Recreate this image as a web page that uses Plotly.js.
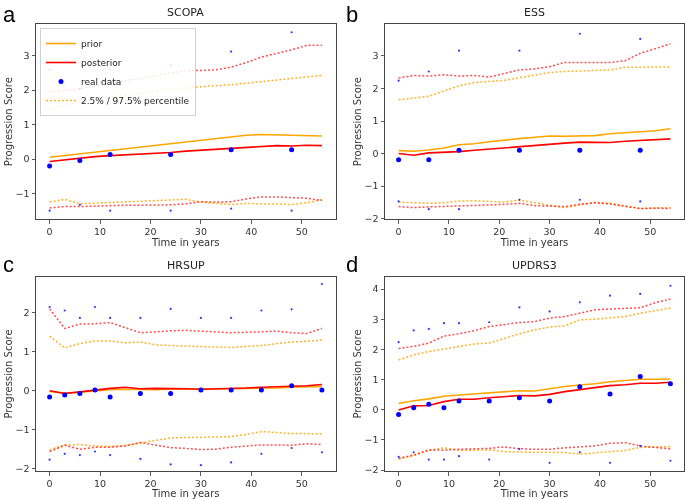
<!DOCTYPE html>
<html>
<head>
<meta charset="utf-8">
<script src="https://cdn.plot.ly/plotly-3.0.1.min.js"></script>
<style>html,body{margin:0;padding:0;background:#fff;}#chart{width:685px;height:499px;}</style>
</head>
<body>
<div id="chart"></div>
<script>
// ---------- data ----------
const panelTitles = ["SCOPA", "ESS", "HRSUP", "UPDRS3"];
const panelLetters = ["a", "b", "c", "d"];
const time = [0,3,6,9,12,15,18,21,24,27,30,33,36,39,42,45,48,51,54];
const xTicks = [0,10,20,30,40,50];

// SCOPA
const scopaPrior     = [0.05,0.10,0.16,0.20,0.24,0.29,0.35,0.40,0.45,0.50,0.56,0.61,0.66,0.69,0.71,0.70,0.69,0.68,0.67];
const scopaPost      = [-0.07,-0.02,0.03,0.07,0.10,0.12,0.15,0.18,0.19,0.23,0.26,0.28,0.31,0.34,0.36,0.39,0.38,0.40,0.39];
const scopaPriorHi   = [1.44,1.55,1.65,1.73,1.80,1.86,1.92,1.98,2.03,2.07,2.10,2.12,2.16,2.20,2.25,2.30,2.35,2.40,2.43];
const scopaPriorLo   = [-1.25,-1.17,-1.30,-1.28,-1.27,-1.25,-1.22,-1.19,-1.17,-1.17,-1.25,-1.29,-1.32,-1.29,-1.30,-1.32,-1.32,-1.27,-1.18];
const scopaPostHi    = [1.95,2.00,2.04,2.13,2.20,2.27,2.33,2.42,2.50,2.56,2.57,2.59,2.67,2.80,2.96,3.06,3.17,3.30,3.30];
const scopaPostLo    = [-1.42,-1.38,-1.38,-1.36,-1.35,-1.34,-1.34,-1.34,-1.33,-1.30,-1.24,-1.25,-1.24,-1.16,-1.10,-1.10,-1.13,-1.14,-1.20];
const scopaDataT     = [0,6,12,24,36,48];
const scopaData      = [-0.20,-0.04,0.13,0.13,0.27,0.27];
const scopaDataHi    = [2.59,2.04,2.62,2.71,3.12,3.68];
const scopaDataLo    = [-1.50,-1.33,-1.50,-1.50,-1.44,-1.50];

// ESS
const essPrior       = [0.09,0.07,0.11,0.17,0.27,0.30,0.36,0.42,0.46,0.50,0.54,0.53,0.55,0.55,0.61,0.63,0.67,0.70,0.76];
const essPost        = [0.00,-0.05,0.02,0.03,0.06,0.10,0.14,0.18,0.20,0.25,0.29,0.32,0.35,0.34,0.34,0.38,0.41,0.43,0.45];
const essPriorHi     = [1.65,1.70,1.76,1.92,2.08,2.18,2.22,2.25,2.33,2.42,2.49,2.52,2.54,2.55,2.57,2.65,2.65,2.66,2.66];
const essPriorLo     = [-1.49,-1.52,-1.53,-1.51,-1.46,-1.45,-1.48,-1.49,-1.43,-1.52,-1.59,-1.66,-1.59,-1.50,-1.53,-1.60,-1.69,-1.67,-1.66];
const essPostHi      = [2.32,2.40,2.38,2.42,2.38,2.40,2.35,2.45,2.57,2.60,2.67,2.80,2.80,2.78,2.80,2.85,3.08,3.22,3.37];
const essPostLo      = [-1.63,-1.66,-1.64,-1.63,-1.62,-1.59,-1.58,-1.56,-1.53,-1.60,-1.62,-1.63,-1.56,-1.51,-1.55,-1.61,-1.69,-1.68,-1.69];
const essDataT       = [0,6,12,24,36,48];
const essData        = [-0.19,-0.19,0.10,0.10,0.10,0.10];
const essDataHi      = [2.24,2.52,3.16,3.16,3.68,3.52];
const essDataLo      = [-1.47,-1.71,-1.71,-1.42,-1.42,-1.47];

// HRSUP
const hrsupPrior     = [-0.02,-0.06,-0.04,0.00,0.03,0.04,0.03,0.03,0.04,0.04,0.04,0.05,0.05,0.06,0.06,0.07,0.09,0.10,0.11];
const hrsupPost      = [0.00,-0.07,-0.03,0.02,0.06,0.09,0.05,0.06,0.06,0.05,0.04,0.05,0.05,0.07,0.09,0.10,0.11,0.13,0.16];
const hrsupPriorHi   = [1.40,1.10,1.21,1.28,1.28,1.23,1.25,1.18,1.16,1.15,1.14,1.13,1.11,1.14,1.16,1.21,1.25,1.27,1.30];
const hrsupPriorLo   = [-1.52,-1.39,-1.38,-1.42,-1.43,-1.40,-1.34,-1.28,-1.21,-1.20,-1.19,-1.18,-1.18,-1.12,-1.05,-1.07,-1.10,-1.10,-1.11];
const hrsupPostHi    = [2.10,1.60,1.71,1.72,1.75,1.62,1.49,1.51,1.54,1.55,1.53,1.50,1.49,1.50,1.51,1.53,1.49,1.47,1.60];
const hrsupPostLo    = [-1.56,-1.40,-1.50,-1.45,-1.45,-1.42,-1.33,-1.40,-1.46,-1.48,-1.51,-1.50,-1.45,-1.42,-1.39,-1.39,-1.40,-1.36,-1.38];
const hrsupDataT     = [0,3,6,9,12,18,24,30,36,42,48,54];
const hrsupData      = [-0.16,-0.11,-0.07,0.02,-0.16,-0.07,-0.07,0.02,0.02,0.02,0.13,0.02];
const hrsupDataHi    = [2.15,2.06,1.87,2.15,1.87,1.87,2.10,1.87,1.87,2.06,2.09,2.74];
const hrsupDataLo    = [-1.77,-1.62,-1.65,-1.56,-1.65,-1.75,-1.89,-1.91,-1.84,-1.62,-1.47,-1.58];

// UPDRS3
const updrsPrior     = [0.21,0.30,0.36,0.45,0.49,0.52,0.55,0.59,0.63,0.62,0.70,0.77,0.82,0.86,0.93,0.98,1.01,1.01,1.02];
const updrsPost      = [-0.01,0.13,0.14,0.27,0.35,0.35,0.40,0.44,0.47,0.46,0.51,0.60,0.66,0.74,0.80,0.83,0.88,0.88,0.91];
const updrsPriorHi   = [1.65,1.82,1.93,2.01,2.10,2.18,2.21,2.37,2.52,2.65,2.74,2.78,2.98,3.00,3.04,3.09,3.20,3.28,3.37];
const updrsPriorLo   = [-1.64,-1.52,-1.35,-1.26,-1.35,-1.34,-1.33,-1.39,-1.41,-1.41,-1.41,-1.42,-1.47,-1.43,-1.41,-1.35,-1.25,-1.24,-1.22];
const updrsPostHi    = [2.03,2.10,2.21,2.44,2.52,2.62,2.76,2.82,2.89,2.92,3.04,3.09,3.20,3.31,3.34,3.37,3.38,3.55,3.67];
const updrsPostLo    = [-1.61,-1.50,-1.33,-1.34,-1.31,-1.30,-1.28,-1.23,-1.29,-1.31,-1.31,-1.26,-1.22,-1.20,-1.11,-1.09,-1.20,-1.25,-1.30];
const updrsDataT     = [0,3,6,9,12,18,24,30,36,42,48,54];
const updrsData      = [-0.16,0.07,0.18,0.07,0.29,0.29,0.40,0.29,0.76,0.52,1.10,0.86];
const updrsDataHi    = [2.24,2.63,2.68,2.87,2.87,2.90,3.39,3.26,3.56,3.78,3.84,4.11];
const updrsDataLo    = [-1.56,-1.41,-1.65,-1.65,-1.54,-1.65,-1.30,-1.76,-1.41,-1.76,-1.20,-1.69];

// ---------- build ----------
const panels = [
  {prior: scopaPrior, post: scopaPost, priorHi: scopaPriorHi, priorLo: scopaPriorLo, postHi: scopaPostHi, postLo: scopaPostLo,
   dt: scopaDataT, d: scopaData, dHi: scopaDataHi, dLo: scopaDataLo},
  {prior: essPrior, post: essPost, priorHi: essPriorHi, priorLo: essPriorLo, postHi: essPostHi, postLo: essPostLo,
   dt: essDataT, d: essData, dHi: essDataHi, dLo: essDataLo},
  {prior: hrsupPrior, post: hrsupPost, priorHi: hrsupPriorHi, priorLo: hrsupPriorLo, postHi: hrsupPostHi, postLo: hrsupPostLo,
   dt: hrsupDataT, d: hrsupData, dHi: hrsupDataHi, dLo: hrsupDataLo},
  {prior: updrsPrior, post: updrsPost, priorHi: updrsPriorHi, priorLo: updrsPriorLo, postHi: updrsPostHi, postLo: updrsPostLo,
   dt: updrsDataT, d: updrsData, dHi: updrsDataHi, dLo: updrsDataLo}
];

const ORANGE = "#FFA500", RED = "#FF0000", BLUE = "#0000FF";
const DOT = "2px,2px";
const traces = [];
panels.forEach((p, i) => {
  const xa = i === 0 ? "x" : "x" + (i + 1);
  const ya = i === 0 ? "y" : "y" + (i + 1);
  const first = i === 0;
  traces.push({x: time, y: p.priorHi, xaxis: xa, yaxis: ya, mode: "lines", line: {color: ORANGE, width: 1.5, dash: DOT}, opacity: 0.85,
    name: "2.5% / 97.5% percentile", legendrank: 4, showlegend: first, hoverinfo: "skip"});
  traces.push({x: time, y: p.priorLo, xaxis: xa, yaxis: ya, mode: "lines", line: {color: ORANGE, width: 1.5, dash: DOT}, opacity: 0.85,
    showlegend: false, hoverinfo: "skip"});
  traces.push({x: time, y: p.postHi, xaxis: xa, yaxis: ya, mode: "lines", line: {color: RED, width: 1.5, dash: DOT}, opacity: 0.7,
    showlegend: false, hoverinfo: "skip"});
  traces.push({x: time, y: p.postLo, xaxis: xa, yaxis: ya, mode: "lines", line: {color: RED, width: 1.5, dash: DOT}, opacity: 0.7,
    showlegend: false, hoverinfo: "skip"});
  traces.push({x: time, y: p.prior, xaxis: xa, yaxis: ya, mode: "lines", line: {color: ORANGE, width: 1.6},
    name: "prior", legendrank: 1, showlegend: first});
  traces.push({x: time, y: p.post, xaxis: xa, yaxis: ya, mode: "lines", line: {color: RED, width: 1.6},
    name: "posterior", legendrank: 2, showlegend: first});
  traces.push({x: p.dt, y: p.d, xaxis: xa, yaxis: ya, mode: "markers", marker: {color: BLUE, size: 5},
    name: "real data", legendrank: 3, showlegend: first});
  traces.push({x: p.dt.concat(p.dt), y: p.dHi.concat(p.dLo), xaxis: xa, yaxis: ya, mode: "markers",
    marker: {color: BLUE, size: 2.2}, opacity: 0.8, showlegend: false, hoverinfo: "skip"});
});

const W = 685, H = 499;
const colX = [[36/W, 335.5/W], [385/W, 684/W]];
const rowY = [[1 - 219.3/H, 1 - 24/H], [1 - 471/H, 1 - 277/H]];
const yRanges = [[-1.75, 3.92], [-2.02, 3.98], [-2.06, 2.92], [-2.03, 4.40]];
const yTicks = [[-1,0,1,2,3], [-2,-1,0,1,2,3], [-2,-1,0,1,2], [-2,-1,0,1,2,3,4]];

const tickFont = {family: "DejaVu Sans, sans-serif", size: 9.5, color: "#333"};
const layout = {
  width: W, height: H,
  margin: {l: 0, r: 0, t: 0, b: 0},
  paper_bgcolor: "#fff", plot_bgcolor: "#fff",
  showlegend: true,
  legend: {x: 40/W, y: 1 - 28/H, xanchor: "left", yanchor: "top",
    bgcolor: "rgba(255,255,255,0.85)", bordercolor: "#d0d0d0", borderwidth: 1,
    font: {family: "DejaVu Sans, sans-serif", size: 9, color: "#222"},
    tracegroupgap: 0, itemwidth: 30},
  annotations: [],
  hovermode: false
};

for (let i = 0; i < 4; i++) {
  const col = i % 2, row = Math.floor(i / 2);
  const sfx = i === 0 ? "" : String(i + 1);
  layout["xaxis" + sfx] = {
    domain: colX[col], anchor: "y" + sfx, range: [-2.7, 56.7],
    tickvals: xTicks, ticks: "outside", ticklen: 3.5, tickwidth: 0.8, tickcolor: "#333",
    showgrid: false, zeroline: false, showline: true, mirror: true, linecolor: "#444", linewidth: 1,
    tickfont: tickFont,
    title: {text: "Time in years", font: {family: "DejaVu Sans, sans-serif", size: 10, color: "#333"}, standoff: 0}
  };
  layout["yaxis" + sfx] = {
    domain: rowY[row], anchor: "x" + sfx, range: yRanges[i],
    tickvals: yTicks[i], ticks: "outside", ticklen: 3.5, tickwidth: 0.8, tickcolor: "#333",
    showgrid: false, zeroline: false, showline: true, mirror: true, linecolor: "#444", linewidth: 1,
    tickfont: tickFont,
    title: {text: "Progression Score", font: {family: "DejaVu Sans, sans-serif", size: 10, color: "#333"}, standoff: 1}
  };
  const cx = (colX[col][0] + colX[col][1]) / 2;
  layout.annotations.push({
    text: panelTitles[i], xref: "paper", yref: "paper", x: cx, y: rowY[row][1], yshift: 3,
    xanchor: "center", yanchor: "bottom", showarrow: false,
    font: {family: "DejaVu Sans, sans-serif", size: 11, color: "#222"}
  });
  layout.annotations.push({
    text: panelLetters[i], xref: "paper", yref: "paper",
    x: col === 0 ? 1/W : 344/W, y: row === 0 ? 1 - 0/H : 1 - 250/H,
    xanchor: "left", yanchor: "top", showarrow: false,
    font: {family: "Liberation Sans, Arial, sans-serif", size: 22, color: "#000"}
  });
}

Plotly.newPlot("chart", traces, layout, {displayModeBar: false, staticPlot: true});
</script>
</body>
</html>
